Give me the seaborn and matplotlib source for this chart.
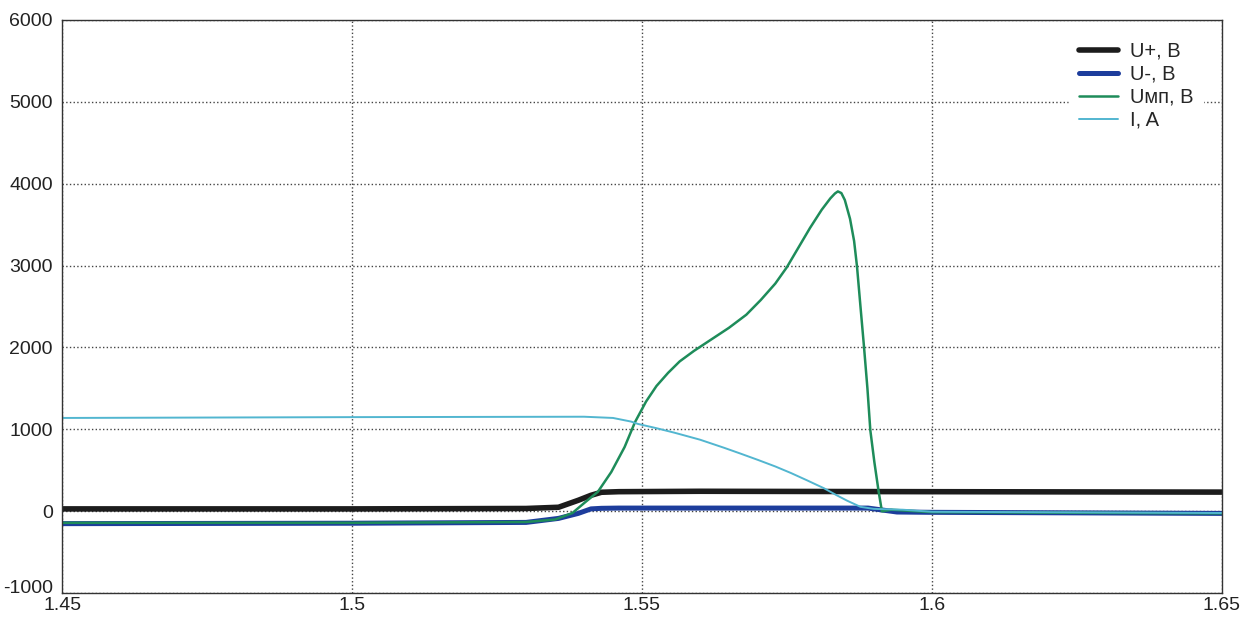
import numpy as np
import pandas as pd
import matplotlib
matplotlib.use('Agg')
import matplotlib.pyplot as plt
import matplotlib.transforms as mtrans
import seaborn as sns

# values
t_up = [1.45, 1.50, 1.53, 1.5356, 1.539, 1.5412, 1.543, 1.546, 1.56, 1.60, 1.65]
u_plus = [30, 30, 35, 50, 135, 196, 233, 240, 245, 240, 235]

t_um = [1.45, 1.50, 1.53, 1.5356, 1.539, 1.5412, 1.543, 1.546, 1.589, 1.594, 1.60, 1.65]
u_minus = [-150, -145, -135, -86, -25, 30, 37, 40, 40, -8, -12, -25]

t_imp = [1.45, 1.50, 1.53, 1.535, 1.538, 1.540, 1.5424, 1.5447, 1.547, 1.5488,
         1.5507, 1.5525, 1.5545, 1.5565, 1.559, 1.562, 1.565, 1.568, 1.5705,
         1.573, 1.575, 1.577, 1.579, 1.581, 1.5825, 1.5833, 1.5838, 1.5844,
         1.5850, 1.5859, 1.5866, 1.5871, 1.5877, 1.5883, 1.5889, 1.5894,
         1.5901, 1.5908, 1.5914, 1.593, 1.60, 1.65]
u_imp = [-140, -140, -130, -100, -20, 100, 240, 480, 785, 1090,
         1340, 1530, 1690, 1830, 1960, 2100, 2240, 2400, 2580,
         2780, 2980, 3220, 3460, 3680, 3820, 3880, 3905, 3885,
         3800, 3570, 3300, 2990, 2500, 2016, 1500, 990,
         600, 258, 0, 20, -10, -25]

t_i = [1.45, 1.50, 1.54, 1.545, 1.5481, 1.5493, 1.5525, 1.5556, 1.560, 1.5642,
       1.567, 1.570, 1.573, 1.5757, 1.5785, 1.5814, 1.5835, 1.5854, 1.5877,
       1.590, 1.595, 1.60, 1.65]
cur_i = [1140, 1150, 1155, 1140, 1096, 1067, 1015, 960, 875, 775,
         705, 628, 548, 468, 378, 282, 200, 130, 55,
         30, 20, -5, -20]

labels = ['U+, B', 'U-, B', 'Uмп, B', 'I, A']
colors = ['#1c1c1c', '#1d3d9c', '#1e8c5a', '#52b6d0']
widths = [4.0, 3.6, 1.8, 1.4]

sns.set_style('whitegrid')
plt.rcParams['font.family'] = ['Liberation Sans', 'DejaVu Sans']
plt.rcParams['axes.unicode_minus'] = False

fig, ax = plt.subplots(figsize=(12.49, 6.18), dpi=100)
fig.subplots_adjust(left=0.05, right=0.978, top=0.968, bottom=0.04)

series = [(t_up, u_plus), (t_um, u_minus), (t_imp, u_imp), (t_i, cur_i)]
for (tt, vv), lab, c, w in zip(series, labels, colors, widths):
    sns.lineplot(x=tt, y=vv, ax=ax, color=c, linewidth=w, label=lab)

ax.set_xlim(1.45, 1.65)
ax.set_ylim(-1000, 6000)
ax.set_xticks([1.45, 1.5, 1.55, 1.6, 1.65])
ax.set_xticklabels(['1.45', '1.5', '1.55', '1.6', '1.65'])
ax.set_yticks(range(-1000, 6001, 1000))
ax.tick_params(labelsize=14, colors='#222222', length=4, direction='in')
ax.tick_params(axis='x', pad=3)
ax.tick_params(axis='y', pad=7)
ax.grid(True, linestyle=':', color='#444444', linewidth=1.0)
for s in ax.spines.values():
    s.set_color('#333333')
    s.set_linewidth(1.0)

# lift the -1000 label a little so it does not sit on 1.45
lbl = ax.get_yticklabels()[0]
lbl.set_transform(lbl.get_transform() + mtrans.ScaledTranslation(0, 5 / 72, fig.dpi_scale_trans))

leg = ax.legend(loc='upper right', bbox_to_anchor=(0.993, 0.997), fontsize=14.5,
                frameon=True, fancybox=False, handlelength=1.9,
                labelspacing=0.2, borderpad=0.5, handletextpad=0.6)
leg.get_frame().set_edgecolor('white')
leg.get_frame().set_facecolor('white')
leg.get_frame().set_alpha(1.0)

fig.savefig('out.png', dpi=100)
